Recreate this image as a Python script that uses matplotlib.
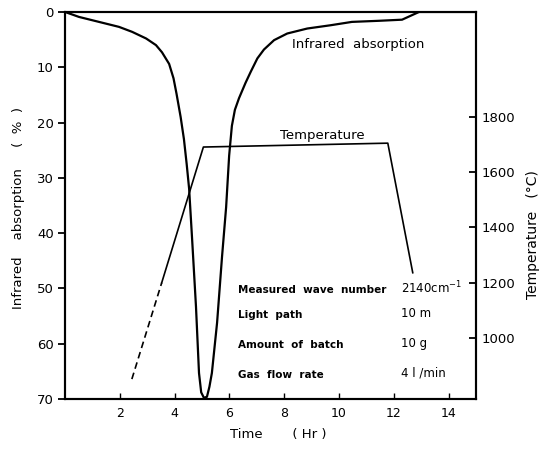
import numpy as np
import matplotlib.pyplot as plt

# infrared absorption (%) against time (Hr)
ir_time = [0.0, 0.51, 1.24, 1.97, 2.45, 2.96, 3.32, 3.54, 3.80, 3.96,
           4.07, 4.22, 4.34, 4.44, 4.53, 4.64, 4.78, 4.89, 4.97, 5.07,
           5.18, 5.27, 5.36, 5.55, 5.73, 5.88, 5.99, 6.09, 6.20, 6.35,
           6.59, 6.78, 7.02, 7.26, 7.63, 8.11, 8.84, 9.70, 10.47, 11.46,
           12.30, 12.92, 15.0]
ir_abs = [0.0, 0.9, 1.8, 2.7, 3.6, 4.8, 6.0, 7.3, 9.4, 12.0,
          14.8, 19.0, 23.0, 27.5, 32.0, 41.2, 53.3, 65.3, 68.8, 69.8,
          69.6, 67.8, 65.3, 56.2, 44.3, 35.3, 26.0, 20.6, 17.7, 15.6,
          12.8, 10.8, 8.4, 6.8, 5.1, 3.9, 3.0, 2.4, 1.8, 1.6,
          1.4, 0.0, 0.0]

# furnace temperature (degC), the early part is only estimated (dashed)
temp_time_est = [2.44, 3.53]
temp_est = [851, 1200]
temp_time = [3.53, 5.05, 11.78, 12.69]
temp = [1200, 1691, 1705, 1236]

# measuring conditions
cond_names = ["Measured  wave  number", "Light  path", "Amount  of  batch", "Gas  flow  rate"]
cond_values = ["2140cm$^{-1}$", "10 m", "10 g", "4 l /min"]

plt.rcParams['font.family'] = 'DejaVu Sans'
fig = plt.figure(figsize=(5.43, 4.49), dpi=100)
ax = fig.add_axes([0.1197, 0.1114, 0.757, 0.862])

ax.plot(ir_time, ir_abs, color='k', lw=1.6, solid_joinstyle='round')
ax.set_xlim(0, 15)
ax.set_ylim(70, 0)
ax.set_xticks([2, 4, 6, 8, 10, 12, 14])
ax.set_yticks(np.arange(0, 71, 10))
ax.tick_params(axis='y', direction='out', length=5, width=1.3, labelsize=9.5, pad=3)
ax.tick_params(axis='x', direction='in', length=4, width=1, labelsize=9, pad=6)
for s in ax.spines.values():
    s.set_linewidth(1.5)
ax.set_ylabel("Infrared    absorption     (  %  )", fontsize=9.5)
ax.yaxis.set_label_coords(-0.097, 0.494)
ax.set_xlabel("Time       ( Hr )", fontsize=9.5)
ax.xaxis.set_label_coords(0.518, -0.075)

ax2 = ax.twinx()
ax2.plot(temp_time_est, temp_est, color='k', lw=1.2, ls=(0, (4, 2.5)))
ax2.plot(temp_time, temp, color='k', lw=1.2)
ax2.set_ylim(779, 2180)
ax2.set_yticks([1000, 1200, 1400, 1600, 1800])
ax2.tick_params(axis='y', direction='in', length=5, width=1.3, labelsize=9.5, pad=4)
ax2.set_ylabel("Temperature   (°C)", fontsize=10)
ax2.yaxis.set_label_coords(1.121, 0.424)
for s in ax2.spines.values():
    s.set_linewidth(1.5)

ax.text(10.7, 5.8, "Infrared  absorption", fontsize=9.5, ha='center', va='center')
ax.text(9.4, 22.4, "Temperature", fontsize=9.5, ha='center', va='center')

rows_y = [50.3, 54.8, 60.3, 65.6]
for name, val, yy in zip(cond_names, cond_values, rows_y):
    ax.text(6.33, yy, name, fontsize=7.5, fontweight='bold', ha='left', va='center')
    ax.text(12.25, yy - 0.3, val, fontsize=8.5, ha='left', va='center')

fig.savefig("out.png", dpi=100)
